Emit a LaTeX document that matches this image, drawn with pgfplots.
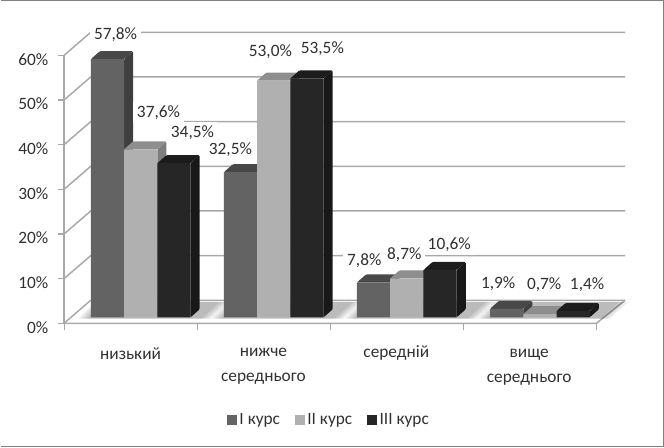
\documentclass[border=0pt]{standalone}
\usepackage{pgfplots}
\pgfplotsset{compat=1.18}
\usepackage{fontspec}
\setmainfont{Carlito}

\definecolor{frontA}{HTML}{636363}
\definecolor{sideA}{HTML}{3F3F3F}
\definecolor{topA}{HTML}{484848}
\definecolor{frontB}{HTML}{B0B0B0}
\definecolor{sideB}{HTML}{7E7E7E}
\definecolor{topB}{HTML}{8E8E8E}
\definecolor{frontC}{HTML}{262626}
\definecolor{sideC}{HTML}{181818}
\definecolor{topC}{HTML}{1C1C1C}
\definecolor{gridc}{HTML}{A8A8A8}
\definecolor{inkc}{HTML}{303030}

% Side and top faces of a column: left edge, value, side colour, top colour
\newcommand{\columnfaces}[4]{%
  \pgfmathsetmacro\xr{#1+0.25}%
  \pgfmathsetmacro\xrb{#1+0.25+0.068}%
  \pgfmathsetmacro\xlb{#1+0.068}%
  \pgfmathsetmacro\yb{#2+1.79}%
  \addplot[forget plot,fill=#3,draw=none,rounded corners=0.8pt] coordinates {(\xr,0) (\xrb,1.79) (\xrb,\yb) (\xr,#2)} -- cycle;
  \addplot[forget plot,fill=#4,draw=none,rounded corners=0.8pt] coordinates {(#1,#2) (\xr,#2) (\xrb,\yb) (\xlb,\yb)} -- cycle;
}

% One soft layer of the shadow a group throws on the floor
\newcommand{\floorshadow}[2]{%
  \pgfmathsetmacro\sa{(84-#2+133.2*#1-63.5)/133.2}%
  \pgfmathsetmacro\sb{(204+#2+133.2*#1-63.5)/133.2}%
  \pgfmathsetmacro\sc{(222+#2+133.2*#1-63.5)/133.2}%
  \pgfmathsetmacro\sd{(100-#2+133.2*#1-63.5)/133.2}%
  \addplot[forget plot,fill=black,fill opacity=0.075,draw=none] coordinates {(\sa,-0.3) (\sb,-0.3) (\sc,3.4) (\sd,3.4)} -- cycle;
}

% Text placed by its centre
\newcommand{\labelat}[3]{%
  \node[text=inkc,font=\fontsize{13}{15}\selectfont,inner sep=0pt,align=center] at (axis cs:{(#1-63.5)/133.2},{(317-#2)/4.47}) {#3};
}
\newcommand{\valuelabel}[3]{%
  \node[text=inkc,font=\fontsize{13}{15}\selectfont,fill=white,inner xsep=3pt,inner ysep=2.5pt] at (axis cs:{(#1-63.5)/133.2},{(317-#2)/4.47}) {#3};
}

\begin{document}
\begin{tikzpicture}
\begin{axis}[
  width=498pt, height=337.5pt, scale only axis,
  hide axis, clip=false,
  xmin=-0.4767, xmax=4.5083,
  ymin=-29.3, ymax=71.37,
  legend columns=3,
  legend style={draw=none, fill=none, text=inkc,
    font=\fontsize{13}{15}\selectfont,
    at={(axis cs:1.992,-23.04)}, anchor=center,
    /tikz/every even column/.append style={column sep=9pt},
    legend image code/.code={\fill[#1] (0pt,-3.4pt) rectangle (7.5pt,3.8pt);}},
]

% Walls and floor
\pgfplotsinvokeforeach{0,10,20,30,40,50,60}{
  \pgfmathsetmacro\yf{#1-1.34}
  \pgfmathsetmacro\yk{#1+3.81}
  \addplot[forget plot,gridc,line width=1.1pt] coordinates {(0,\yf) (0.2,\yk) (4.215,\yk)};
  \addplot[forget plot,gridc,line width=0.9pt] coordinates {(-0.045,\yf) (0,\yf)};
}
\addplot[forget plot,gridc,line width=1.1pt] coordinates {(0,-1.34) (4,-1.34) (4.215,3.81)};
\addplot[forget plot,gridc,line width=1.1pt] coordinates {(0,-1.34) (0,58.66)};
\pgfplotsinvokeforeach{0,1,2,3,4}{
  \addplot[forget plot,gridc,line width=0.9pt] coordinates {(#1,-1.34) (#1,-2.9)};
}

% Shadows on the floor
\pgfplotsinvokeforeach{0,1,2,3}{
  \floorshadow{#1}{6}
  \floorshadow{#1}{3}
  \floorshadow{#1}{0}
  \floorshadow{#1}{-3}
}

% I курс
\columnfaces{0.2005}{57.8}{sideA}{topA}
\columnfaces{1.2005}{32.5}{sideA}{topA}
\columnfaces{2.2005}{7.8}{sideA}{topA}
\columnfaces{3.2005}{1.9}{sideA}{topA}
\addplot[ybar,bar width=0.25,bar shift=0pt,fill=frontA,draw=none] coordinates {(0.3255,57.8) (1.3255,32.5) (2.3255,7.8) (3.3255,1.9)};
\addlegendentry{I курс}

% II курс
\columnfaces{0.4505}{37.6}{sideB}{topB}
\columnfaces{1.4505}{53.0}{sideB}{topB}
\columnfaces{2.4505}{8.7}{sideB}{topB}
\columnfaces{3.4505}{0.7}{sideB}{topB}
\addplot[ybar,bar width=0.25,bar shift=0pt,fill=frontB,draw=none] coordinates {(0.5755,37.6) (1.5755,53.0) (2.5755,8.7) (3.5755,0.7)};
\addlegendentry{II курс}

% III курс
\columnfaces{0.7005}{34.5}{sideC}{topC}
\columnfaces{1.7005}{53.5}{sideC}{topC}
\columnfaces{2.7005}{10.6}{sideC}{topC}
\columnfaces{3.7005}{1.4}{sideC}{topC}
\addplot[ybar,bar width=0.25,bar shift=0pt,fill=frontC,draw=none] coordinates {(0.8255,34.5) (1.8255,53.5) (2.8255,10.6) (3.8255,1.4)};
\addlegendentry{III курс}

% Value labels; each one masks the grid behind it
\valuelabel{115}{34}{57,8\%}
\valuelabel{158}{112}{37,6\%}
\valuelabel{230}{149}{32,5\%}
\valuelabel{192}{132}{34,5\%}
\valuelabel{270}{51}{53,0\%}
\valuelabel{322}{48}{53,5\%}
\valuelabel{364}{260}{7,8\%}
\valuelabel{404}{254}{8,7\%}
\valuelabel{449}{244}{10,6\%}
\valuelabel{498}{283}{1,9\%}
\valuelabel{544}{284}{0,7\%}
\valuelabel{587}{284}{1,4\%}

% Percent scale
\pgfplotsinvokeforeach{0,10,20,30,40,50,60}{
  \node[text=inkc,font=\fontsize{13}{15}\selectfont,inner sep=0pt,anchor=east] at (axis cs:{(48-63.5)/133.2},{(317-(327-4.47*#1))/4.47}) {#1\%};
}

% Category names
\labelat{130}{353}{низький}
\labelat{263}{366}{нижче\\[4pt]середнього}
\labelat{396}{353}{середній}
\labelat{529}{367}{вище\\[4pt]середнього}

% Frame
\addplot[forget plot,color=black!50,line width=1pt] coordinates {(-0.4767,70.9) (4.503,70.9) (4.503,-29.0) (-0.4767,-29.0)};
\end{axis}
\end{tikzpicture}
\end{document}
